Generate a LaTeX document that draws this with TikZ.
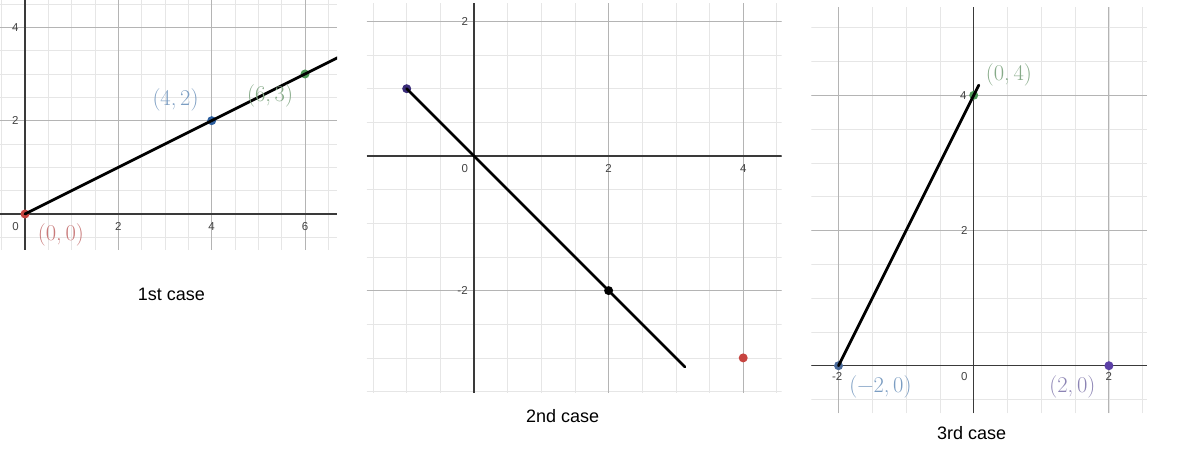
\documentclass[tikz,border=0pt]{standalone}
\usepackage{fontspec}
\setsansfont{Liberation Sans}
\definecolor{minorc}{HTML}{E6E6E6}
\definecolor{majorc}{HTML}{B4B4B4}
\definecolor{axisc}{HTML}{3A3A3A}
\definecolor{tickc}{HTML}{444444}
\definecolor{dred}{HTML}{C74440}
\definecolor{dblue}{HTML}{2D5F9E}
\definecolor{dgreen}{HTML}{4E9A58}
\definecolor{dpurple}{HTML}{5B3FA6}
\definecolor{dnavy}{HTML}{3A2C78}
\definecolor{dslate}{HTML}{4A6A9A}
\definecolor{lred}{HTML}{C97A7A}
\definecolor{lblue}{HTML}{7B9DC2}
\definecolor{lgreen}{HTML}{86AA88}
\definecolor{lpurple}{HTML}{8C84B4}
\tikzset{
  minorgrid/.style={draw=minorc, line width=0.8pt},
  majorgrid/.style={draw=majorc, line width=0.9pt},
  axisline/.style={draw=axisc, line width=1.4pt},
  graphline/.style={draw=black, line width=2.8pt, line cap=round},
  dot/.style={circle, inner sep=0pt, minimum size=9pt},
  ticklbl/.style={font=\sffamily\fontsize{11.5}{11.5}\selectfont, text=tickc, inner sep=1pt},
  ptlbl/.style={font=\rmfamily\fontsize{22.5}{22.5}\selectfont, inner sep=0pt},
  caption/.style={font=\sffamily\fontsize{18}{18}\selectfont, text=black, inner sep=0pt}
}
\begin{document}
\begin{tikzpicture}[x=1pt,y=-1pt]
\useasboundingbox[fill=white] (0,0) rectangle (1198,468);

% ---------- Panel 1 ----------
\begin{scope}[shift={(25,214)}, x=46.67pt, y=46.67pt]
  \clip (-0.536,-0.77) rectangle (6.69,4.59);
  \draw[minorgrid] (-0.536,-0.77) grid[step=0.5] (6.69,4.59);
  \draw[majorgrid] (-0.536,-0.77) grid[step=2] (6.69,4.59);
  \draw[axisline] (-0.536,0) -- (6.69,0);
  \draw[axisline] (0,-0.77) -- (0,4.59);
  \node[ticklbl] (p1y4) at (-0.21,4) {4};
  \node[ticklbl] (p1y2) at (-0.21,2) {2};
  \node[ticklbl] (p1x0) at (-0.2,-0.27) {0};
  \node[ticklbl] (p1x2) at (2,-0.27) {2};
  \node[ticklbl] (p1x4) at (4,-0.27) {4};
  \node[ticklbl] (p1x6) at (6,-0.27) {6};
  \node[dot, fill=dred] (a0) at (0,0) {};
  \node[dot, fill=dblue] (a1) at (4,2) {};
  \node[dot, fill=dgreen] (a2) at (6,3) {};
  \coordinate (aend) at (6.77,3.385);
  \draw[graphline] (a0.center) -- (aend);
  \node[ptlbl, text=lblue] (la1) at (3.225,2.45) {(4,\,2)};
  \node[ptlbl, text=lgreen] (la2) at (5.25,2.54) {(6,\,3)};
  \node[ptlbl, text=lred] (la0) at (0.77,-0.45) {(0,\,0)};
\end{scope}
\node[caption] (cap1) at (171.5,294.5) {1st case};

% ---------- Panel 2 ----------
\begin{scope}[shift={(474,156)}, x=67.3pt, y=67.3pt]
  \clip (-1.595,-3.52) rectangle (4.57,2.27);
  \draw[minorgrid] (-1.595,-3.52) grid[step=0.5] (4.57,2.27);
  \draw[majorgrid] (-1.595,-3.52) grid[step=2] (4.57,2.27);
  \draw[axisline] (-1.595,0) -- (4.57,0);
  \draw[axisline] (0,-3.52) -- (0,2.27);
  \node[ticklbl] (p2y2) at (-0.135,2) {2};
  \node[ticklbl] (p2ym2) at (-0.17,-2) {-2};
  \node[ticklbl] (p2x0) at (-0.135,-0.18) {0};
  \node[ticklbl] (p2x2) at (2,-0.18) {2};
  \node[ticklbl] (p2x4) at (4,-0.18) {4};
  \node[dot, fill=dnavy] (b0) at (-1,1) {};
  \node[dot, fill=black] (b1) at (2,-2) {};
  \node[dot, fill=dred] (b2) at (4,-3) {};
  \coordinate (bend) at (3.135,-3.135);
  \draw[graphline] (b0.center) -- (bend);
\end{scope}
\node[caption] (cap2) at (562.7,416.5) {2nd case};

% ---------- Panel 3 ----------
\begin{scope}[shift={(973.7,365.7)}, x=67.6pt, y=67.6pt]
  \clip (-2.40,-0.70) rectangle (2.56,5.31);
  \draw[minorgrid] (-2.40,-0.70) grid[step=0.5] (2.56,5.31);
  \draw[majorgrid] (-2.40,-0.70) grid[step=2] (2.56,5.31);
  \draw[axisline] (-2.40,0) -- (2.56,0);
  \draw[axisline] (0,-0.70) -- (0,5.31);
  \node[ticklbl] (p3y4) at (-0.155,4) {4};
  \node[ticklbl] (p3y2) at (-0.14,2) {2};
  \node[ticklbl] (p3x0) at (-0.14,-0.16) {0};
  \node[ticklbl] (p3xm2) at (-2.02,-0.16) {-2};
  \node[ticklbl] (p3x2) at (2.0,-0.16) {2};
  \node[dot, fill=dslate] (c0) at (-2,0) {};
  \node[dot, fill=dgreen] (c1) at (0,4) {};
  \node[dot, fill=dpurple] (c2) at (2,0) {};
  \coordinate (cend) at (0.075,4.15);
  \draw[graphline] (c0.center) -- (cend);
  \node[ptlbl, text=lgreen] (lc1) at (0.52,4.3) {(0,\,4)};
  \node[ptlbl, text=lblue] (lc0) at (-1.38,-0.31) {(−2,\,0)};
  \node[ptlbl, text=lpurple] (lc2) at (1.46,-0.31) {(2,\,0)};
\end{scope}
\node[caption] (cap3) at (971.7,433.3) {3rd case};
\end{tikzpicture}
\end{document}
